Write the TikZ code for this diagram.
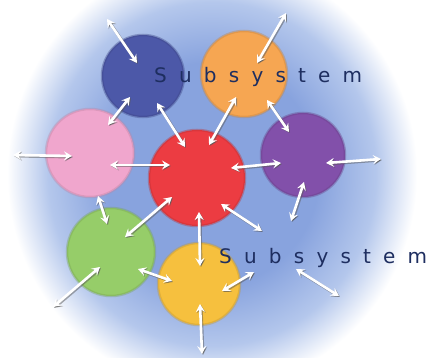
\documentclass[tikz,border=0pt]{standalone}
\usepackage{fontspec}
\newfontfamily\subfont[LetterSpace=61]{DejaVu Sans}
\usetikzlibrary{arrows.meta}
\definecolor{bgblue}{RGB}{136,163,222}
\definecolor{bglight}{RGB}{180,199,236}
\definecolor{navyc}{RGB}{76,88,168}
\definecolor{orangec}{RGB}{246,166,82}
\definecolor{pinkc}{RGB}{240,166,205}
\definecolor{redc}{RGB}{236,60,66}
\definecolor{purplec}{RGB}{130,80,170}
\definecolor{greenc}{RGB}{150,205,105}
\definecolor{yellowc}{RGB}{246,192,62}
\definecolor{txtc}{RGB}{30,46,96}
\pgfdeclareradialshading{bgsh}{\pgfpoint{0bp}{0bp}}{color(0bp)=(bgblue); color(13bp)=(bgblue); color(20bp)=(bglight); color(25bp)=(white); color(50bp)=(white)}
\begin{document}
\begin{tikzpicture}[x=1pt,y=-1pt,
  ball/.style={circle, inner sep=0, fill=#1, draw=#1!80!black, draw opacity=0.4, line width=2.5pt},
  arr/.style={{Stealth[length=8pt,width=9pt,inset=3pt]}-{Stealth[length=8pt,width=9pt,inset=3pt]}, white, line width=2.6pt,
    preaction={draw=black!65, draw opacity=0.5, line width=3pt, transform canvas={shift={(1pt,-1pt)}}}},
  lbl/.style={anchor=base west, inner sep=0, text=txtc, font=\subfont\fontsize{20}{24}\selectfont}]
\useasboundingbox (0,0) rectangle (428,358);
\fill[white] (0,0) rectangle (428,358);
\shade[shading=bgsh] (212,174) ellipse [x radius=205, y radius=215];
% subsystems
\node[ball=navyc, minimum size=82] (N) at (143,76) {};
\node[ball=orangec, minimum size=86] (O) at (244,74) {};
\node[ball=pinkc, minimum size=88] (P) at (90,153) {};
\node[ball=redc, minimum size=96] (R) at (197,178) {};
\node[ball=purplec, minimum size=84] (U) at (303,155) {};
\node[ball=greenc, minimum size=88] (G) at (111,252) {};
\node[ball=yellowc, minimum size=82] (Y) at (199,284) {};
% labels
\node[lbl] (T1) at (154,83) {Subsystem};
\node[lbl] (T2) at (219,263) {Subsystem};
% connectors
\foreach \n/\ax/\ay/\bx/\by in {
  1/107/19/137/63, 2/108/125/130/97, 3/157/103/185/147, 4/13/155/72/156,
  5/110/165/170/165, 6/286/13/257/63, 7/236/97/209/145, 8/267/100/289/132,
  9/231/168/281/163, 10/326/163/381/159, 11/125/237/172/197, 12/98/196/107/224,
  13/199/212/200/266, 14/138/269/172/281, 15/53/307/100/267, 16/200/304/202/354,
  17/221/204/262/231, 18/304/182/291/221, 19/222/291/254/272, 20/296/269/339/296}{
  \coordinate (s\n) at (\ax,\ay);
  \coordinate (e\n) at (\bx,\by);
  \draw[arr] (s\n) -- (e\n);
}
\end{tikzpicture}
\end{document}
